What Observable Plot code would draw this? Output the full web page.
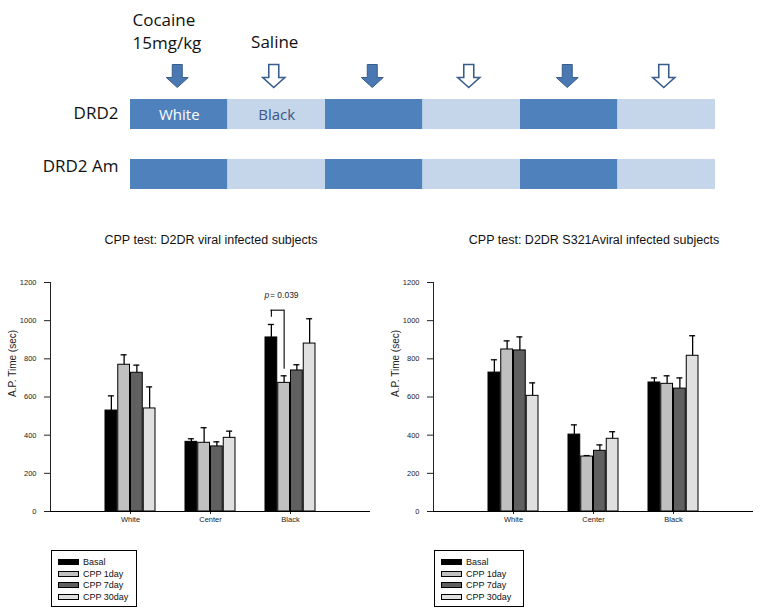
<!DOCTYPE html>
<html>
<head>
<meta charset="utf-8">
<script src="https://cdn.jsdelivr.net/npm/d3@7"></script>
<script src="https://cdn.jsdelivr.net/npm/@observablehq/plot@0.6"></script>
<style>
  body { margin:0; background:#fff; width:773px; height:611px; position:relative; overflow:hidden;
         font-family:"Liberation Sans", Arial, sans-serif; }
  .abs { position:absolute; }
  .title { font-size:12.5px; line-height:13px; color:#111; white-space:nowrap; transform:translateX(-50%); }
  .legend { border:1px solid #000; box-sizing:border-box; font-size:9px; color:#111; }
  .legend .row { position:absolute; left:6px; height:6px; }
  .legend .sw { position:absolute; left:0; top:0; width:21px; height:6px; box-sizing:border-box; border:1px solid #000; }
  .legend .lb { position:absolute; left:25px; top:-2px; line-height:10px; white-space:nowrap; }
</style>
</head>
<body>
<div id="top" class="abs" style="left:0;top:0"></div>
<div id="title1" class="abs title" style="left:211px;top:234px"></div>
<div id="title2" class="abs title" style="left:594px;top:234px"></div>
<div id="chart1" class="abs" style="left:0;top:225px"></div>
<div id="chart2" class="abs" style="left:383px;top:225px"></div>
<div id="legend1" class="abs legend" style="left:51px;top:550px;width:86px;height:57px"></div>
<div id="legend2" class="abs legend" style="left:434px;top:550px;width:90px;height:57px"></div>
<script>
// ---------- schematic data ----------
const phases = ["Cocaine", "Saline", "Cocaine", "Saline", "Cocaine", "Saline"];
const rows = ["DRD2", "DRD2 Am"];
const pairingLabels = ["White", "Black"];          // written on the DRD2 row
const drugLabels = ["Cocaine\n15mg/kg", "Saline"]; // above the first two arrows
const phaseColors = ["#4f81bd", "#c5d5ea"];

// ---------- bar chart data ----------
const categories = ["White", "Center", "Black"];
const series = ["Basal", "CPP 1day", "CPP 7day", "CPP 30day"];
const seriesColors = ["#000000", "#c0c0c0", "#606060", "#e0e0e0"];
const yTicks = [0, 200, 400, 600, 800, 1000, 1200];

const titleD2DR = "CPP test: D2DR viral infected subjects";
const d2drMean = [[529, 769, 727, 540], [365, 360, 341, 386], [912, 674, 739, 880]];
const d2drErr  = [[77, 52, 40, 113], [16, 79, 24, 35], [68, 37, 30, 130]];

const titleS321A = "CPP test: D2DR S321Aviral infected subjects";
const s321aMean = [[728, 849, 844, 606], [403, 288, 318, 381], [676, 669, 644, 816]];
const s321aErr  = [[67, 45, 71, 68], [51, 5, 31, 37], [24, 42, 56, 105]];

// significance bracket in the D2DR chart
const pBracket = [{cat: "Black", from: 0, to: 1, yTop: 1055, yFrom: 1018, yTo: 746, yLabel: 1132, p: "p", rest: "= 0.039"}];

const yLabel = "A.P. Time (sec)";

// ---------- schematic ----------
const segs = [];
rows.forEach(r => phases.forEach((p, i) => segs.push({row: r, i, phase: p,
  label: r === "DRD2" ? (pairingLabels[i] || "") : ""})));
const arrows = phases.map((p, i) => ({i, phase: p}));
const arrowSymbol = {
  draw(c) {
    c.moveTo(-5, -11.5); c.lineTo(5, -11.5); c.lineTo(5, 1.5); c.lineTo(11, 1.5);
    c.lineTo(0, 11.5); c.lineTo(-11, 1.5); c.lineTo(-5, 1.5); c.closePath();
  }
};
const sf = "'Open Sans', 'Noto Sans', sans-serif";
const topPlot = Plot.plot({
  width: 773, height: 200, margin: 0,
  style: {fontFamily: sf, background: "transparent"},
  x: {domain: [0, phases.length], range: [130, 715], axis: null},
  y: {domain: rows, range: [84, 204], paddingInner: 0.5, paddingOuter: 0.25, axis: null},
  color: {domain: ["Cocaine", "Saline"], range: phaseColors},
  marks: [
    Plot.barX(segs, {x1: "i", x2: d => d.i + 1, y: "row", fill: "phase"}),
    Plot.text([rows[0]], {x: 0, y: d => d, text: d => d, textAnchor: "end", dx: -12, dy: -1, fontSize: 17, fill: "#111"}),
    Plot.text([rows[1]], {x: 0, y: d => d, text: d => d, textAnchor: "end", dx: -12, dy: -8, fontSize: 17, fill: "#111"}),
    Plot.text(segs.filter(d => d.label && d.phase === "Cocaine"), {x: d => d.i + 0.5, y: "row", text: "label", fill: "#fff", fontSize: 15, dy: 1}),
    Plot.text(segs.filter(d => d.label && d.phase === "Saline"), {x: d => d.i + 0.5, y: "row", text: "label", fill: "#3b5784", fontSize: 15, dy: 1}),
    Plot.dot(arrows.filter(d => d.phase === "Cocaine"), {x: d => d.i + 0.5, frameAnchor: "top", dy: 75.5, dx: -2, symbol: arrowSymbol, fill: "#4a78b2", stroke: "#385d8a", strokeWidth: 1}),
    Plot.dot(arrows.filter(d => d.phase === "Saline"), {x: d => d.i + 0.5, frameAnchor: "top", dy: 75.5, dx: -3, symbol: arrowSymbol, fill: "#fff", stroke: "#385d8a", strokeWidth: 1.6}),
    Plot.text([drugLabels[0]], {x: 0, frameAnchor: "top", dy: 8, dx: 2, text: d => d, textAnchor: "start", lineAnchor: "top", lineHeight: 1.41, fontSize: 17, fill: "#111"}),
    Plot.text([drugLabels[1]], {x: 1.5, frameAnchor: "top", dy: 35.7, dx: -2, text: d => d, textAnchor: "middle", lineAnchor: "top", fontSize: 17, fill: "#111"})
  ]
});
document.getElementById("top").append(topPlot);

// ---------- bar charts ----------
const cf = "'Liberation Sans Narrow', 'Liberation Sans', Arial, sans-serif";
function barChart(means, errs, bracket) {
  const data = categories.flatMap((c, ci) => series.map((s, si) =>
    ({cat: c, series: s, si, value: means[ci][si], err: errs[ci][si]})));
  const step = 80, groupW = 51, barW = groupW / series.length;
  const off = si => -groupW / 2 + barW * (si + 0.5);
  const marks = [];
  series.forEach((s, si) => {
    const d = data.filter(r => r.si === si);
    const c = step / 2 + off(si);
    marks.push(
      Plot.ruleX(d, {x: "cat", y1: "value", y2: r => r.value + r.err, dx: off(si), stroke: "#000", strokeWidth: 1.3}),
      Plot.tickY(d, {x: "cat", y: r => r.value + r.err, insetLeft: c - 3, insetRight: step - c - 3, stroke: "#000", strokeWidth: 1.3}),
      Plot.barY(d, {x: "cat", y: "value", insetLeft: c - barW / 2 + 0.5, insetRight: step - c - barW / 2 + 0.5,
        fill: "series", stroke: "#000", strokeWidth: 1})
    );
  });
  if (bracket) {
    const b = bracket[0];
    marks.push(
      Plot.ruleX(bracket, {x: "cat", y1: "yFrom", y2: "yTop", dx: off(b.from), stroke: "#000", strokeWidth: 1.1}),
      Plot.ruleX(bracket, {x: "cat", y1: "yTo", y2: "yTop", dx: off(b.to), stroke: "#000", strokeWidth: 1.1}),
      Plot.tickY(bracket, {x: "cat", y: "yTop", insetLeft: step / 2 + off(b.from) - 0.5, insetRight: step / 2 - off(b.to) - 0.5, stroke: "#000", strokeWidth: 1.1}),
      Plot.text(bracket, {x: "cat", y: "yLabel", text: "p", fontStyle: "italic", textAnchor: "start", dx: -26, fontSize: 8.5, fill: "#222"}),
      Plot.text(bracket, {x: "cat", y: "yLabel", text: "rest", textAnchor: "start", dx: -20.5, fontSize: 8.5, fill: "#222"})
    );
  }
  marks.push(
    Plot.ruleY([0], {stroke: "#000", strokeWidth: 1.2}),
    Plot.text([yLabel], {frameAnchor: "left", rotate: -90, dx: -38, text: d => d, fontSize: 10, fill: "#222",
      fontFamily: "'Liberation Sans', Arial, sans-serif"})
  );
  return Plot.plot({
    width: 390, height: 310, marginLeft: 50, marginRight: 20, marginTop: 57, marginBottom: 24,
    style: {fontFamily: cf, fontSize: "7.5px", color: "#222", background: "transparent"},
    x: {domain: categories, paddingInner: 0, paddingOuter: 0.5, tickSize: 3, tickPadding: 2, label: null},
    y: {domain: [0, 1200], ticks: yTicks, tickFormat: d => String(d), tickSize: 6, tickPadding: 8, line: true, label: null},
    color: {domain: series, range: seriesColors},
    marks
  });
}
document.getElementById("chart1").append(barChart(d2drMean, d2drErr, pBracket));
document.getElementById("chart2").append(barChart(s321aMean, s321aErr, null));
document.getElementById("title1").textContent = titleD2DR;
document.getElementById("title2").textContent = titleS321A;

// ---------- legends ----------
function legend(id) {
  const el = document.getElementById(id);
  series.forEach((s, i) => {
    const row = document.createElement("div");
    row.className = "row";
    row.style.top = (8 + i * 11.6) + "px";
    const sw = document.createElement("div");
    sw.className = "sw";
    sw.style.background = seriesColors[i];
    const lb = document.createElement("div");
    lb.className = "lb";
    lb.textContent = s;
    row.append(sw, lb);
    el.append(row);
  });
}
legend("legend1");
legend("legend2");
</script>
</body>
</html>
